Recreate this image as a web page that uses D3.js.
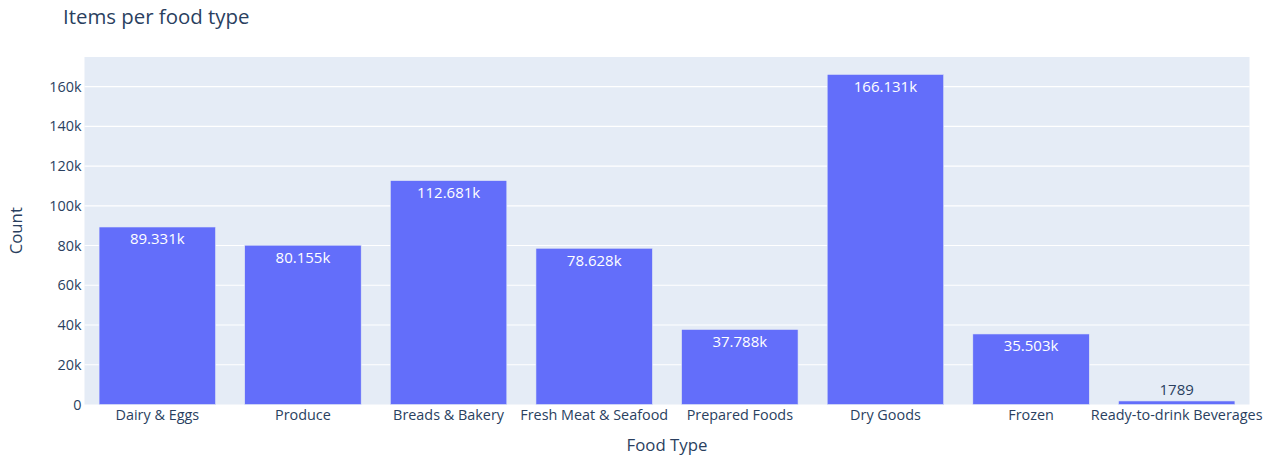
<!DOCTYPE html>
<html>
<head>
<meta charset="utf-8">
<script src="https://cdn.jsdelivr.net/npm/d3@7"></script>
<style>
  body { margin: 0; background: #fff; }
  text { font-family: "Open Sans", verdana, arial, sans-serif; }
</style>
</head>
<body>
<svg id="chart"></svg>
<script>
const categories = ["Dairy & Eggs", "Produce", "Breads & Bakery", "Fresh Meat & Seafood",
    "Prepared Foods", "Dry Goods", "Frozen", "Ready-to-drink Beverages"];
const counts = [89331, 80155, 112681, 78628, 37788, 166131, 35503, 1789];
const yTicks = [0, 20000, 40000, 60000, 80000, 100000, 120000, 140000, 160000];

const svg_width = 1269, svg_height = 457;
const margin = { top: 57, right: 19.5, bottom: 52.5, left: 84.5 },
    width = svg_width - margin.left - margin.right,
    height = svg_height - margin.top - margin.bottom;

const svg = d3.select("#chart")
    .attr("width", svg_width)
    .attr("height", svg_height);

const g = svg.append("g")
    .attr("transform", `translate(${margin.left},${margin.top})`);

const x = d3.scaleBand().domain(categories).range([0, width])
    .paddingInner(0.2).paddingOuter(0.1);
const y = d3.scaleLinear().domain([0, d3.max(counts) * 1.0526]).range([height, 0]);

const data = categories.map((c, i) => ({ cat: c, n: counts[i] }));

g.append("rect")
    .attr("width", width)
    .attr("height", height)
    .attr("fill", "#E5ECF6");

// gridlines
g.append("g")
    .selectAll("line")
    .data(yTicks.slice(1))
    .join("line")
    .attr("x1", 0).attr("x2", width)
    .attr("y1", d => y(d)).attr("y2", d => y(d))
    .attr("stroke", "#fff")
    .attr("stroke-width", 1.2);

// y axis
const yAxis = g.append("g")
    .call(d3.axisLeft(y).tickValues(yTicks).tickSize(0).tickPadding(3)
        .tickFormat(d => d === 0 ? "0" : d / 1000 + "k"));
yAxis.select(".domain").remove();
yAxis.selectAll("text")
    .attr("fill", "#2a3f5f")
    .style("font-size", "14.4px");

// x axis
const xAxis = g.append("g")
    .attr("transform", `translate(0,${height})`)
    .call(d3.axisBottom(x).tickSize(0).tickPadding(5));
xAxis.select(".domain").remove();
xAxis.selectAll("text")
    .attr("fill", "#2a3f5f")
    .style("font-size", "14.4px");

g.selectAll(".bar")
    .data(data)
    .join("rect")
    .attr("class", "bar")
    .attr("x", d => x(d.cat))
    .attr("width", x.bandwidth())
    .attr("y", d => y(d.n))
    .attr("height", d => height - y(d.n))
    .attr("fill", "#636efa")
    .attr("stroke", "#E5ECF6")
    .attr("stroke-width", 0.6);

function fmt(v) {
    return v >= 10000 ? d3.format(".3f")(v / 1000) + "k" : String(v);
}

g.selectAll(".label")
    .data(data)
    .join("text")
    .attr("class", "label")
    .attr("x", d => x(d.cat) + x.bandwidth() / 2)
    .attr("y", d => height - y(d.n) > 30 ? y(d.n) + 17.5 : y(d.n) - 6)
    .attr("text-anchor", "middle")
    .attr("fill", d => height - y(d.n) > 30 ? "#fff" : "#2a3f5f")
    .style("font-size", "15px")
    .text(d => fmt(d.n));

svg.append("text")
    .attr("x", 63)
    .attr("y", 24)
    .attr("fill", "#2a3f5f")
    .style("font-size", "20.4px")
    .text("Items per food type");

svg.append("text")
    .attr("x", margin.left + width / 2)
    .attr("y", 451)
    .attr("text-anchor", "middle")
    .attr("fill", "#2a3f5f")
    .style("font-size", "16.8px")
    .text("Food Type");

svg.append("text")
    .attr("transform", `translate(22,${margin.top + height / 2}) rotate(-90)`)
    .attr("text-anchor", "middle")
    .attr("fill", "#2a3f5f")
    .style("font-size", "16.8px")
    .text("Count");
</script>
</body>
</html>
